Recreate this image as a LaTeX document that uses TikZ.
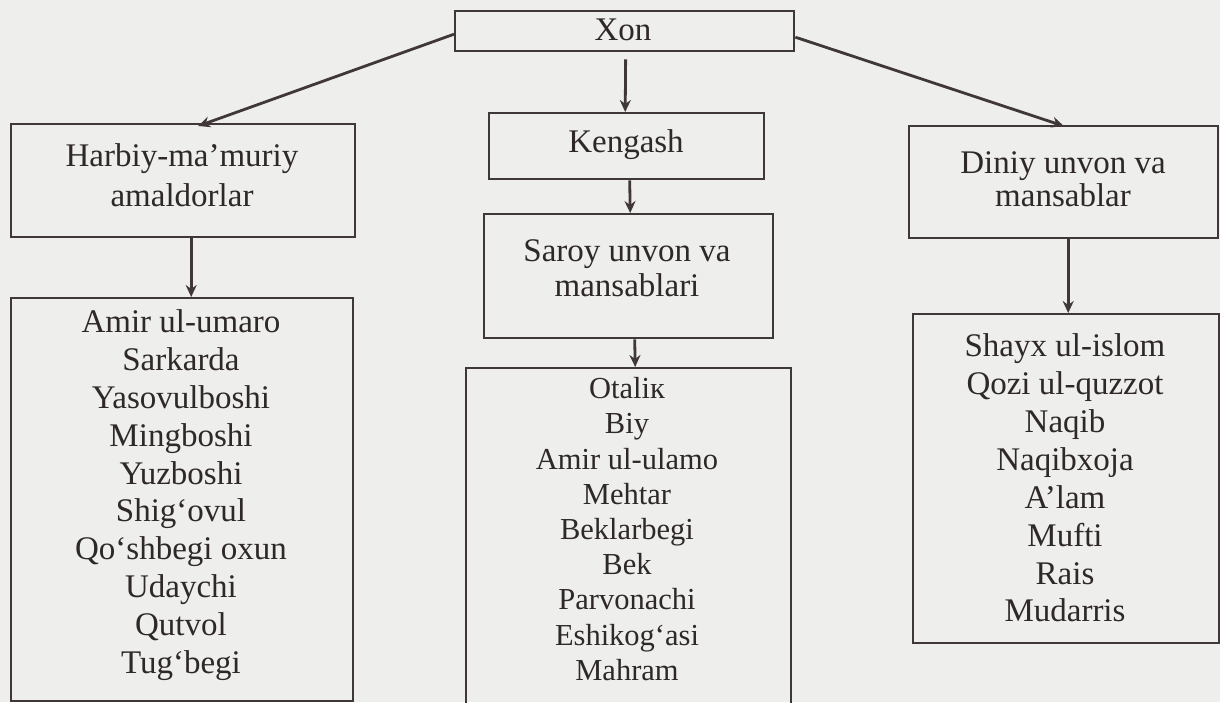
\documentclass[tikz,border=0pt]{standalone}
\usepackage{fontspec}
\setmainfont{Liberation Serif}
\usetikzlibrary{arrows.meta}
\definecolor{bgc}{RGB}{238,238,236}
\definecolor{linec}{RGB}{64,56,56}
\definecolor{txtc}{RGB}{46,40,40}
\begin{document}
\begin{tikzpicture}[x=1pt,y=-1pt,
  box/.style={draw=linec, line width=2.4pt, rectangle, inner sep=0pt, anchor=north west},
  head/.style={text=txtc, align=center, inner sep=0pt, font=\fontsize{33}{40}\selectfont},
  lst/.style={text=txtc, align=center, inner sep=0pt, font=\fontsize{33}{37.8}\selectfont},
  arr/.style={draw=linec, line width=2.8pt, -{Stealth[length=12pt,width=11pt]}}]
\fill[bgc] (0,0) rectangle (1220,702);
\useasboundingbox (0,0) rectangle (1220,702);
% boxes
\node[box, minimum width=339pt, minimum height=40pt] (xon) at (454,10) {};
\node[box, minimum width=344pt, minimum height=113pt] (harbiy) at (10,123) {};
\node[box, minimum width=275pt, minimum height=66pt] (kengash) at (488,112) {};
\node[box, minimum width=289pt, minimum height=124pt] (saroy) at (483,213) {};
\node[box, minimum width=309pt, minimum height=112pt] (diniy) at (908,125) {};
\node[box, minimum width=342pt, minimum height=403pt] (amir) at (10,297) {};
\node[box, minimum width=325pt, minimum height=360pt] (otalik) at (465,367) {};
\node[box, minimum width=306pt, minimum height=329pt] (shayx) at (912,313) {};
% texts
\node[head] (xon-t) at (623,30) {Xon};
\node[head] (harbiy-t) at (182,175) {Harbiy-ma'muriy\\amaldorlar};
\node[head] (kengash-t) at (626,145) {Kengash};
\node[head, font=\fontsize{33}{35}\selectfont] (saroy-t) at (627,268) {Saroy unvon va\\mansablari};
\node[head, font=\fontsize{33}{33}\selectfont] (diniy-t) at (1063,179) {Diniy unvon va\\mansablar};
\node[lst] (amir-t) at (181,495) {Amir ul-umaro\\Sarkarda\\Yasovulboshi\\Mingboshi\\Yuzboshi\\Shig‘ovul\\Qo‘shbegi oxun\\Udaychi\\Qutvol\\Tug‘begi};
\node[lst, font=\fontsize{30.5}{35.2}\selectfont] (otalik-t) at (627,529) {Otaliк\\Biy\\Amir ul-ulamo\\Mehtar\\Beklarbegi\\Bek\\Parvonachi\\Eshikog‘asi\\Mahram};
\node[lst, font=\fontsize{33}{37.9}\selectfont] (shayx-t) at (1065,478) {Shayx ul-islom\\Qozi ul-quzzot\\Naqib\\Naqibxoja\\A'lam\\Mufti\\Rais\\Mudarris};
% connectors
\draw[arr] ([yshift=-3pt]xon.west) -- ([xshift=15pt,yshift=-3pt]harbiy.north);
\draw[arr] ([yshift=-6pt]xon.east) -- ([yshift=-1pt]diniy.north);
\draw[arr, shorten <=7pt] ([xshift=1pt]xon.south) -- ([xshift=-1.5pt]kengash.north);
\draw[arr] ([xshift=3pt]kengash.south) -- ([xshift=1.5pt]saroy.south |- saroy.north);
\draw[arr] ([xshift=6pt]saroy.south) -- ([xshift=6.5pt]otalik.north);
\draw[arr] ([xshift=8pt]harbiy.south) -- ([xshift=9pt]amir.north);
\draw[arr] ([xshift=4.5pt]diniy.south) -- ([xshift=2pt]shayx.north);
\end{tikzpicture}
\end{document}
